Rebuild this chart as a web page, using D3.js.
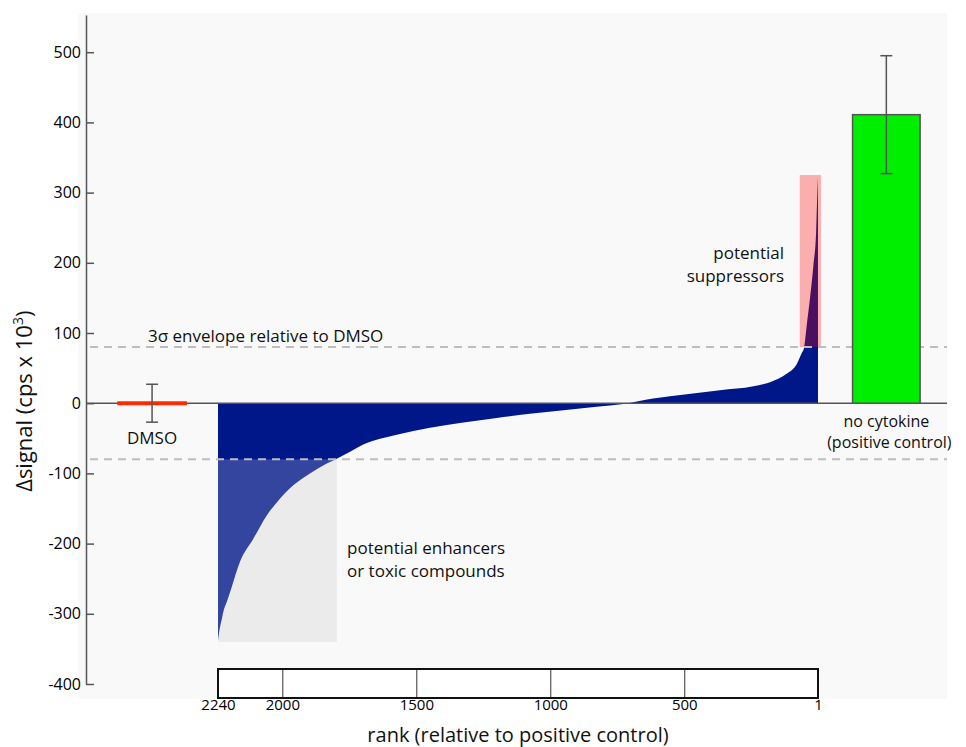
<!DOCTYPE html>
<html>
<head>
<meta charset="utf-8">
<script src="https://unpkg.com/d3@7/dist/d3.min.js"></script>
<style>
  html, body { margin: 0; padding: 0; background: #fff; }
  svg { display: block; font-family: "Open Sans", "DejaVu Sans", sans-serif; }
</style>
</head>
<body>
<div id="chart"></div>
<script>
// values
const yTicks = [-400, -300, -200, -100, 0, 100, 200, 300, 400, 500];
const rankTicks = [2240, 2000, 1500, 1000, 500, 1];

// sorted compound signals, rank -> Δsignal (x 10^3)
const curveRank = [2240, 2234, 2226, 2220, 2208, 2189, 2158, 2108, 2058, 2009, 1959, 1897,
  1834, 1797, 1747, 1698, 1573, 1449, 1324, 1200, 1076, 951, 827, 728, 616, 491, 367,
  242, 180, 118, 80, 62, 53, 43, 31, 18, 8, 4, 1];
const curveSignal = [-338, -322, -308, -297, -284, -262, -226, -193, -160, -136, -117, -100,
  -86, -79, -69, -59, -45, -35, -27.5, -21, -15, -10, -5, -1, 6.7, 12.8, 18.5,
  24, 30, 42, 56, 71, 79, 111, 149, 197, 244, 292, 322];

const controlNames = ["DMSO", "no cytokine"];
const controlMean = [0, 411];
const controlErr = [27, 84];

const envelope = 80; // 3σ relative to DMSO

// highlighted regions: [rank from, rank to, signal from, signal to]
const enhancerBox = [2240, 1797, -80, -340];
const suppressorBox = [69, -10, 80, 325];

// layout
const W = 966, H = 747;
const axisX = 86, lineEnd = 947;
const dmsoAt = 2486, dmsoHalf = 130;     // in rank units
const ctrlFrom = -128, ctrlTo = -380, ctrlAt = -254;

const svg = d3.select("#chart").append("svg")
  .attr("width", W).attr("height", H);

const x = d3.scaleLinear().domain([2240, 1]).range([218, 818]);
const y = d3.scaleLinear().domain([-400, 553]).range([684, 15]);

// plot background
svg.append("rect")
  .attr("x", 78).attr("y", 13).attr("width", lineEnd - 78).attr("height", 686)
  .attr("fill", "#f9f9f9");

// enhancer box behind curve
svg.append("rect")
  .attr("x", x(enhancerBox[0])).attr("y", y(enhancerBox[2]))
  .attr("width", x(enhancerBox[1]) - x(enhancerBox[0]))
  .attr("height", y(enhancerBox[3]) - y(enhancerBox[2]))
  .attr("fill", "#ebebeb");

const pts = curveRank.map((r, i) => ({r: r, v: curveSignal[i]}));
const area = d3.area()
  .x(d => x(d.r))
  .y0(y(0))
  .y1(d => y(d.v))
  .curve(d3.curveMonotoneX);

svg.append("path")
  .datum(pts)
  .attr("d", area)
  .attr("fill", "#00178a");

// overlays
svg.append("rect")
  .attr("x", x(enhancerBox[0])).attr("y", y(enhancerBox[2]))
  .attr("width", x(enhancerBox[1]) - x(enhancerBox[0]))
  .attr("height", y(enhancerBox[3]) - y(enhancerBox[2]))
  .attr("fill", "#ebebeb").attr("opacity", 0.22);

svg.append("rect")
  .attr("x", x(suppressorBox[0])).attr("y", y(suppressorBox[3]))
  .attr("width", x(suppressorBox[1]) - x(suppressorBox[0]))
  .attr("height", y(suppressorBox[2]) - y(suppressorBox[3]))
  .attr("fill", "#ff0000").attr("opacity", 0.3);

// 3σ envelope
svg.selectAll(".env")
  .data([envelope, -envelope])
  .join("line")
  .attr("x1", axisX + 4).attr("x2", lineEnd)
  .attr("y1", d => y(d)).attr("y2", d => y(d))
  .attr("stroke", "#bdbdbd").attr("stroke-width", 2)
  .attr("stroke-dasharray", "8,6");

// zero line
svg.append("line")
  .attr("x1", axisX).attr("x2", lineEnd)
  .attr("y1", y(0)).attr("y2", y(0))
  .attr("stroke", "#555").attr("stroke-width", 1.5);

// y axis
const yAxis = svg.append("g")
  .attr("transform", `translate(${axisX},0)`)
  .call(d3.axisLeft(y).tickValues(yTicks).tickSizeInner(-8).tickSizeOuter(0)
    .tickPadding(5).tickFormat(d => String(d)));
yAxis.select(".domain").attr("stroke", "#555").attr("stroke-width", 1.5);
yAxis.selectAll(".tick line").attr("stroke", "#555").attr("stroke-width", 1.5);
yAxis.selectAll("text").attr("font-size", 16).attr("fill", "#000")
  .attr("font-family", "Open Sans, sans-serif");

svg.append("text")
  .attr("transform", `translate(32,${y(0) - 2}) rotate(-90)`)
  .attr("text-anchor", "middle").attr("font-size", 22).attr("fill", "#111")
  .call(t => {
    t.append("tspan").text("Δsignal (cps x 10");
    t.append("tspan").text("3").attr("font-size", 14).attr("dy", -9);
    t.append("tspan").text(")").attr("dy", 9);
  });

// DMSO control
svg.append("line")
  .attr("x1", x(dmsoAt + dmsoHalf)).attr("x2", x(dmsoAt - dmsoHalf))
  .attr("y1", y(controlMean[0])).attr("y2", y(controlMean[0]))
  .attr("stroke", "#ff2a00").attr("stroke-width", 4);

// positive control bar
svg.append("rect")
  .attr("x", x(ctrlFrom)).attr("y", y(controlMean[1]))
  .attr("width", x(ctrlTo) - x(ctrlFrom))
  .attr("height", y(0) - y(controlMean[1]))
  .attr("fill", "#00ee00").attr("stroke", "#555").attr("stroke-width", 1.5);

// error bars
const errAt = [dmsoAt, ctrlAt];
const eb = svg.selectAll(".err")
  .data(controlNames.map((n, i) => ({n: n, at: errAt[i], m: controlMean[i], e: controlErr[i]})))
  .join("g");
eb.append("line")
  .attr("x1", d => x(d.at)).attr("x2", d => x(d.at))
  .attr("y1", d => y(d.m + d.e)).attr("y2", d => y(d.m - d.e));
eb.append("line")
  .attr("x1", d => x(d.at) - 6).attr("x2", d => x(d.at) + 6)
  .attr("y1", d => y(d.m + d.e)).attr("y2", d => y(d.m + d.e));
eb.append("line")
  .attr("x1", d => x(d.at) - 6).attr("x2", d => x(d.at) + 6)
  .attr("y1", d => y(d.m - d.e)).attr("y2", d => y(d.m - d.e));
eb.selectAll("line").attr("stroke", "#555").attr("stroke-width", 1.5);

// rank axis box
svg.append("rect")
  .attr("x", x(2240)).attr("y", 669).attr("width", x(1) - x(2240)).attr("height", 29)
  .attr("fill", "#fff");
const rankAxis = svg.append("g")
  .attr("transform", "translate(0,698)")
  .call(d3.axisBottom(x).tickValues(rankTicks).tickSizeInner(-29).tickSizeOuter(0)
    .tickPadding(1).tickFormat(d => String(d)));
rankAxis.select(".domain").remove();
rankAxis.selectAll(".tick line").attr("stroke", "#333").attr("stroke-width", 1);
rankAxis.selectAll("text").attr("font-size", 15).attr("fill", "#000")
  .attr("font-family", "Open Sans, sans-serif");
svg.append("rect")
  .attr("x", x(2240)).attr("y", 669).attr("width", x(1) - x(2240)).attr("height", 29)
  .attr("fill", "none").attr("stroke", "#111").attr("stroke-width", 2);

svg.append("text")
  .attr("x", (x(2240) + x(1)) / 2).attr("y", 742)
  .attr("text-anchor", "middle").attr("font-size", 20).attr("fill", "#111")
  .text("rank (relative to positive control)");

// annotations
const note = (tx, ty, s, anchor, fs) => svg.append("text")
  .attr("x", tx).attr("y", ty).attr("text-anchor", anchor || "start")
  .attr("font-size", fs || 17).attr("fill", "#111").text(s);

note(148, 342, "3σ envelope relative to DMSO");
note(x(dmsoAt), 444, "DMSO", "middle");
note(784, 259, "potential", "end");
note(784, 282, "suppressors", "end");
note(347, 554, "potential enhancers");
note(347, 577, "or toxic compounds");
note(x(ctrlAt), 427, "no cytokine", "middle", 16);
note(x(ctrlAt) + 3, 448, "(positive control)", "middle", 16);
</script>
</body>
</html>
